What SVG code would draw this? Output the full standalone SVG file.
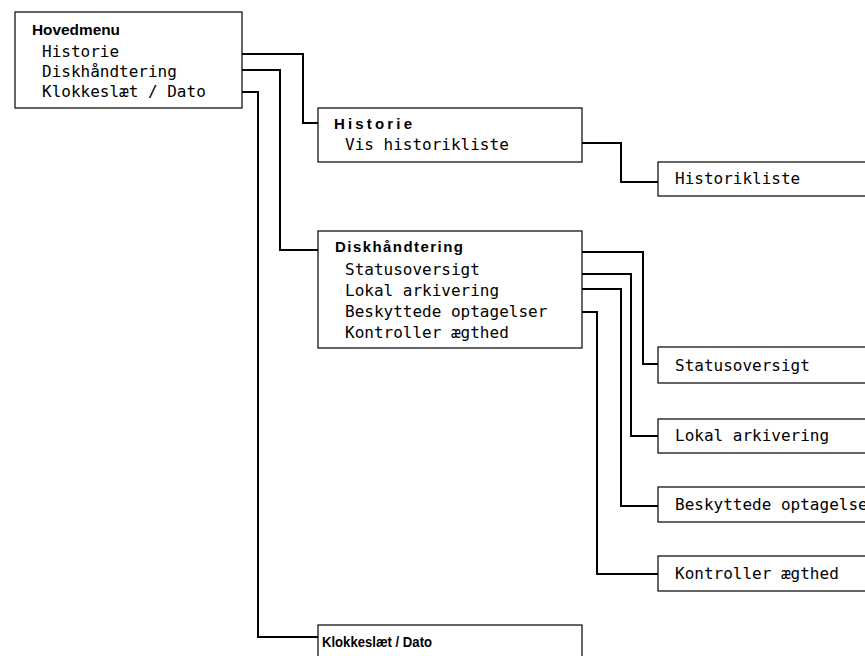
<svg xmlns="http://www.w3.org/2000/svg" width="865" height="656" viewBox="0 0 865 656">
<style>
.box{fill:#fff;stroke:#000;stroke-width:1.2}
.t{font-family:"DejaVu Sans Mono","Liberation Mono",monospace;font-size:16px;fill:#000}
.h{font-family:"Liberation Sans",Arial,sans-serif;font-size:15px;font-weight:bold;fill:#000}
.c{fill:none;stroke:#000;stroke-width:2;stroke-linejoin:miter}
</style>
<rect width="865" height="656" fill="#fff"/>
<g id="connectors">
<path class="c" d="M242,54 H303 V123 H318"/>
<path class="c" d="M242,70 H280 V250 H318"/>
<path class="c" d="M242,92 H258 V637 H318"/>
<path class="c" d="M582,143 H621 V182 H658"/>
<path class="c" d="M582,252 H643 V364 H658"/>
<path class="c" d="M582,274 H631 V436 H658"/>
<path class="c" d="M582,289 H621 V506 H658"/>
<path class="c" d="M582,312 H597 V574 H658"/>
</g>
<g id="hovedmenu">
<rect class="box" x="15" y="12" width="227" height="96"/>
<text class="h" x="32" y="35" textLength="88" lengthAdjust="spacingAndGlyphs">Hovedmenu</text>
<text class="t" x="42" y="57">Historie</text>
<text class="t" x="42" y="77">Diskhåndtering</text>
<text class="t" x="42" y="97">Klokkeslæt / Dato</text>
</g>
<g id="historie">
<rect class="box" x="318" y="108" width="264" height="54"/>
<text class="h" x="334" y="129" textLength="78" lengthAdjust="spacing">Historie</text>
<text class="t" x="345" y="150">Vis historikliste</text>
</g>
<g id="historikliste">
<rect class="box" x="658" y="162" width="220" height="34"/>
<text class="t" x="675" y="184">Historikliste</text>
</g>
<g id="diskhaandtering">
<rect class="box" x="318" y="231" width="264" height="117"/>
<text class="h" x="335" y="252" textLength="128" lengthAdjust="spacing">Diskhåndtering</text>
<text class="t" x="345" y="275">Statusoversigt</text>
<text class="t" x="345" y="296">Lokal arkivering</text>
<text class="t" x="345" y="317">Beskyttede optagelser</text>
<text class="t" x="345" y="338">Kontroller ægthed</text>
</g>
<g id="statusoversigt">
<rect class="box" x="658" y="347" width="220" height="36"/>
<text class="t" x="675" y="371">Statusoversigt</text>
</g>
<g id="lokal-arkivering">
<rect class="box" x="658" y="419" width="220" height="34"/>
<text class="t" x="675" y="441">Lokal arkivering</text>
</g>
<g id="beskyttede-optagelser">
<rect class="box" x="658" y="487" width="220" height="35"/>
<text class="t" x="675" y="510">Beskyttede optagelser</text>
</g>
<g id="kontroller-aegthed">
<rect class="box" x="658" y="556" width="220" height="35"/>
<text class="t" x="675" y="579">Kontroller ægthed</text>
</g>
<g id="klokkeslaet-dato">
<rect class="box" x="318" y="625" width="264" height="50"/>
<text class="h" x="322" y="647" textLength="110" lengthAdjust="spacingAndGlyphs" style="font-size:15.5px">Klokkeslæt / Dato</text>
</g>
</svg>
